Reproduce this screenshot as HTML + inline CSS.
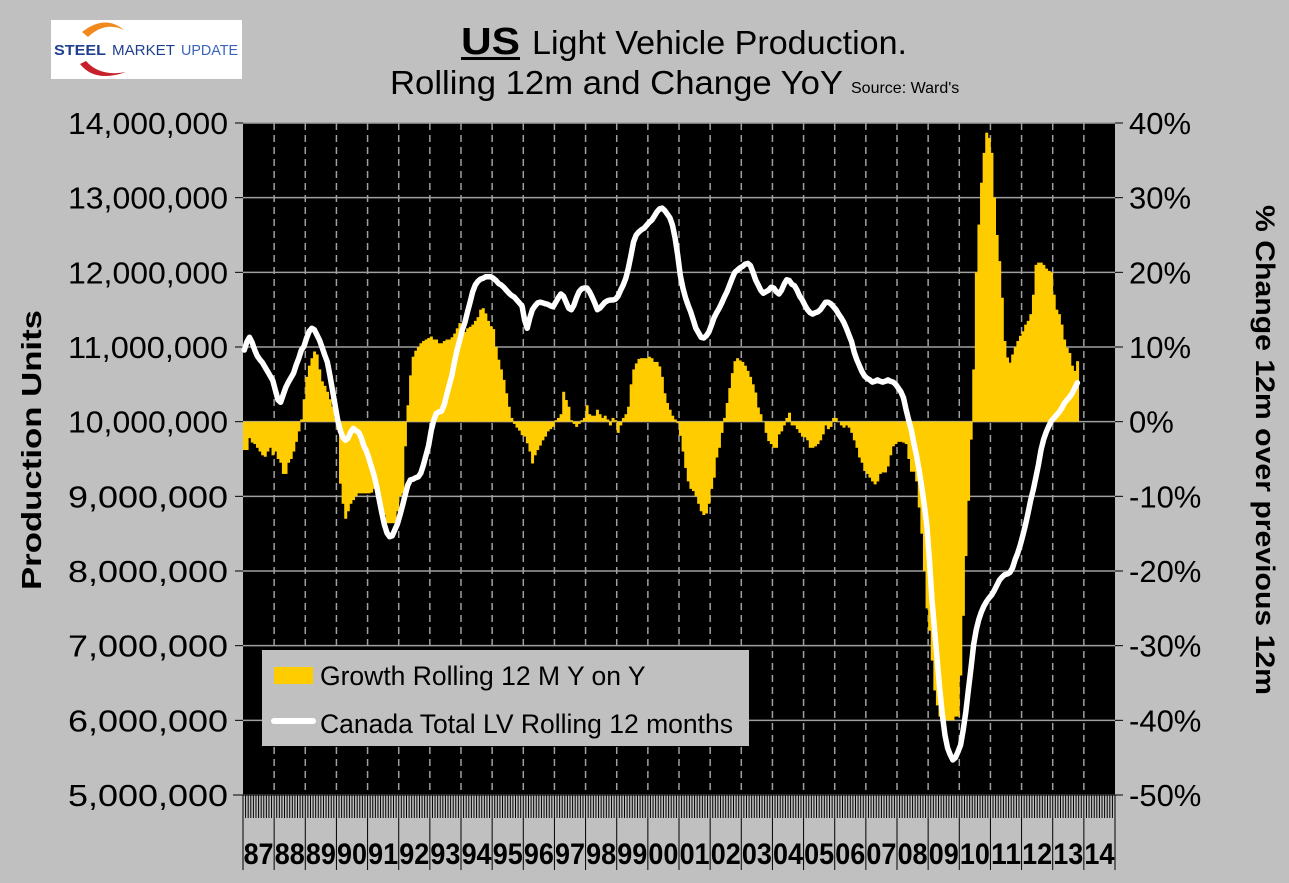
<!DOCTYPE html>
<html><head><meta charset="utf-8"><style>
html,body{margin:0;padding:0;background:#c0c0c0;}
body{width:1289px;height:878px;overflow:hidden;position:relative;font-family:"Liberation Sans",Arial,sans-serif;}
svg text{font-family:"Liberation Sans",Arial,sans-serif;}
</style></head><body>
<svg id="chart" width="1289" height="878" xmlns="http://www.w3.org/2000/svg">
<rect x="0" y="0" width="1289" height="878" fill="#c0c0c0"/>
<g>
<rect x="51" y="20" width="191" height="59" fill="#ffffff"/>
<path d="M82 32 Q105 14 124 30 Q105 21 88 37 Z" fill="#f08a1c"/>
<path d="M80 64 Q95 83 126 72 Q100 77 86 61 Z" fill="#c8202a"/>
<text x="54" y="55" font-size="15" font-weight="bold" fill="#1f3f8f" textLength="52" lengthAdjust="spacingAndGlyphs">STEEL</text>
<text x="112" y="55" font-size="15" fill="#1f3f8f" textLength="63" lengthAdjust="spacingAndGlyphs">MARKET</text>
<text x="181" y="55" font-size="15" fill="#3a64b8" textLength="57" lengthAdjust="spacingAndGlyphs">UPDATE</text>
</g>
<g>
<text x="461" y="54" font-size="38" font-weight="bold" fill="#000" textLength="59" lengthAdjust="spacingAndGlyphs">US</text>
<rect x="461" y="57" width="59" height="3" fill="#000"/>
<text x="532" y="54" font-size="33" fill="#000" textLength="375" lengthAdjust="spacingAndGlyphs">Light Vehicle Production.</text>
<text x="390" y="94" font-size="33" fill="#000" textLength="453" lengthAdjust="spacingAndGlyphs">Rolling 12m and Change YoY</text>
<text x="851" y="93" font-size="16" fill="#000">Source: Ward's</text>
</g>
<g id="plot"></g>
<text transform="translate(41,450) rotate(-90)" text-anchor="middle" font-size="28" font-weight="bold" fill="#000" textLength="280" lengthAdjust="spacingAndGlyphs">Production Units</text>
<text transform="translate(1256,450) rotate(90)" text-anchor="middle" font-size="27" font-weight="bold" fill="#000" textLength="490" lengthAdjust="spacingAndGlyphs">% Change 12m over previous 12m</text>
<g>
<rect x="262" y="650" width="487" height="96" fill="#c0c0c0"/>
<rect x="274" y="667" width="39" height="17" fill="#ffcc00"/>
<text x="320" y="685" font-size="26.5" fill="#000">Growth Rolling 12 M Y on Y</text>
<line x1="274" y1="721" x2="313" y2="721" stroke="#fff" stroke-width="6" stroke-linecap="round"/>
<text x="320" y="733" font-size="26.5" fill="#000">Canada Total LV Rolling 12 months</text>
</g>
</svg>
<script>
const years = ["87","88","89","90","91","92","93","94","95","96","97","98","99","00","01","02","03","04","05","06","07","08","09","10","11","12","13","14"];
const leftTicks = [5000000,6000000,7000000,8000000,9000000,10000000,11000000,12000000,13000000,14000000];
const rightTicks = [-50,-40,-30,-20,-10,0,10,20,30,40];
// Growth rolling 12m YoY (%), monthly from Jan 1987
const growth = [
-3.8,-3.8,-2.2,-2.8,-3,-3.5,-4,-4.5,-4.7,-4,-3.5,-4.5,
-4,-5,-5.5,-7,-7,-5.5,-5,-4,-2.7,-1.3,0.3,3,
6,7.5,8.5,9.4,9,7,5.4,4.8,4,3,2,0.5,
-1,-8.3,-11,-13,-12,-11,-10.5,-10,-9.6,-9.6,-9.6,-9.6,
-9.6,-9.5,-9,-8.7,-10,-11.4,-12.5,-13.6,-13.6,-13.6,-13.6,-12,
-10,-9.6,-3.3,2.2,6.2,8.7,9.5,10,10.5,10.8,11,11.2,
11.4,11,11,10.5,10.5,10.8,11,11,11.3,11.8,12.5,13.2,
12.5,12,12.5,12.7,13,13.5,14,15,15.2,14.5,13.5,12.8,
12.4,10,8.3,7,5.6,3.8,2,0.5,-0.3,-0.8,-1.2,-1.8,
-2,-2.9,-4,-5.6,-4.5,-3.8,-3.2,-2.5,-2,-1.3,-1,-0.7,
0.2,0.5,1,4,2.9,2,0.2,-0.3,-0.7,-0.3,0.2,0.5,
2.2,1,0.8,0.8,1.6,1,0.5,0.8,0.3,-0.5,0.5,0.2,
-1.5,-0.5,0.5,1,2,5,7,7.8,8.4,8.5,8.5,8.5,
8.7,8.5,8,8,7.4,6,3.8,2.5,1.6,0.8,0.3,-0.2,
-1.9,-4,-6.2,-8,-9,-9.3,-10,-11,-12,-12.5,-12.3,-11,
-9,-7.5,-4.8,-3.5,-1.5,0.5,2.5,4.5,6.5,8.1,8.5,8.2,
8,7.5,6.8,6,5,3.9,1.9,1,0,-1.5,-2.6,-3,
-3.5,-3.5,-1.7,-1.3,-0.5,0.5,1.2,-0.5,-0.5,-1,-1.5,-2,
-2.1,-2.5,-3.5,-3.5,-3.3,-3,-2.5,-1.7,-0.5,-1,-0.7,0.5,
0.5,0,-0.5,-0.8,-0.5,-0.8,-1.5,-2.5,-3.5,-4.8,-5.5,-6.6,
-7,-7.5,-8,-8.4,-8,-7,-6.8,-6.8,-6,-4.5,-3.3,-3,
-2.7,-2.7,-2.8,-3,-5,-6.7,-6.7,-8,-11.5,-15,-20,-25,
-28,-32,-36,-38,-39.5,-40,-40,-40,-40,-40,-39.5,-39.5,
-34,-26,-18,-10.6,-2.4,7,20,26.4,32,36,38.7,38,
36,30,25,21.5,16.6,10.8,8.6,7.9,9,10,10.8,11.5,
12.1,13,13.5,14.4,17,21,21.3,21.3,21,20.5,20.2,20,
17,15,14.4,13,11,9.9,9.2,7.5,6.8,8.1
];
// Rolling 12-month production (millions), monthly from Jan 1987
const production = [
10.96,11.07,11.13,11.06,10.96,10.88,10.83,10.79,10.73,10.67,10.61,10.55,
10.42,10.29,10.26,10.36,10.46,10.53,10.59,10.65,10.76,10.85,10.96,11.01,
11.12,11.21,11.25,11.23,11.16,11.09,10.99,10.89,10.80,10.62,10.42,10.22,
10.02,9.88,9.79,9.75,9.78,9.86,9.91,9.88,9.86,9.79,9.68,9.61,
9.51,9.39,9.28,9.13,8.95,8.78,8.62,8.51,8.46,8.47,8.55,8.63,
8.75,8.88,9.02,9.15,9.22,9.23,9.25,9.26,9.31,9.42,9.55,9.68,
9.88,10.02,10.11,10.13,10.14,10.22,10.36,10.49,10.62,10.80,10.96,11.09,
11.23,11.33,11.47,11.60,11.74,11.83,11.88,11.91,11.92,11.94,11.94,11.94,
11.92,11.89,11.85,11.83,11.80,11.76,11.72,11.69,11.67,11.63,11.59,11.55,
11.36,11.25,11.39,11.50,11.55,11.59,11.60,11.59,11.58,11.57,11.55,11.54,
11.60,11.66,11.71,11.68,11.60,11.52,11.50,11.56,11.66,11.74,11.78,11.79,
11.79,11.74,11.67,11.59,11.50,11.52,11.56,11.60,11.62,11.63,11.63,11.64,
11.68,11.76,11.83,11.92,12.06,12.23,12.41,12.50,12.54,12.57,12.59,12.63,
12.67,12.70,12.75,12.81,12.85,12.86,12.83,12.78,12.73,12.63,12.46,12.23,
11.96,11.79,11.66,11.56,11.47,11.36,11.25,11.19,11.13,11.12,11.15,11.20,
11.29,11.39,11.46,11.52,11.59,11.67,11.74,11.83,11.92,12.00,12.03,12.06,
12.08,12.11,12.12,12.09,12.00,11.90,11.83,11.76,11.72,11.74,11.76,11.80,
11.79,11.74,11.71,11.76,11.84,11.90,11.89,11.84,11.82,11.76,11.68,11.63,
11.56,11.50,11.46,11.44,11.46,11.47,11.50,11.55,11.60,11.60,11.58,11.54,
11.50,11.44,11.39,11.33,11.25,11.16,11.07,10.93,10.83,10.75,10.67,10.61,
10.58,10.56,10.53,10.54,10.56,10.54,10.53,10.54,10.56,10.54,10.53,10.50,
10.45,10.40,10.32,10.16,10.02,9.89,9.71,9.55,9.35,9.13,8.88,8.62,
8.15,7.61,7.21,6.81,6.41,6.07,5.80,5.63,5.54,5.47,5.50,5.58,
5.67,5.87,6.11,6.41,6.70,7.01,7.21,7.35,7.45,7.53,7.59,7.64,
7.68,7.74,7.81,7.88,7.92,7.95,7.96,7.98,8.04,8.15,8.24,8.35,
8.48,8.62,8.78,8.95,9.09,9.25,9.42,9.62,9.76,9.86,9.94,10.01,
10.05,10.09,10.13,10.18,10.25,10.29,10.33,10.38,10.45,10.52
];

const NS = "http://www.w3.org/2000/svg";
const L = 243, R = 1115, T = 123, B = 795;
const nMonths = years.length * 12;
const mw = (R - L) / nMonths;
function xMonth(i){ return L + i * mw; }
function yLeft(v){ return B - (v - 5000000) / 9000000 * (B - T); }
function yPct(p){ return B - (p + 50) / 90 * (B - T); }
function yProd(m){ return yLeft(m * 1000000); }
function mk(tag, attrs, parent){
  const e = document.createElementNS(NS, tag);
  for (const k in attrs) e.setAttribute(k, attrs[k]);
  parent.appendChild(e);
  return e;
}
const plot = document.getElementById('plot');
const bg = mk('rect', {x:L, y:T, width:R-L, height:B-T, fill:'#000'}, plot);


leftTicks.forEach((v) => {
  const y = yLeft(v);
  const gl = mk('line', {x1:L, x2:R, y1:y, y2:y, stroke:'#a0a0a0', 'stroke-width':1.5}, plot);
  
  
  mk('line', {x1:L-8, x2:L, y1:y, y2:y, stroke:'#000', 'stroke-width':1}, plot);
  mk('line', {x1:R, x2:R+8, y1:y, y2:y, stroke:'#000', 'stroke-width':1}, plot);
  const t = mk('text', {x:228, y:y+11, 'text-anchor':'end', 'font-size':31, fill:'#000', textLength:160, lengthAdjust:'spacingAndGlyphs'}, plot);
  t.textContent = v.toLocaleString('en-US');
  
  
});
rightTicks.forEach((p) => {
  const y = yPct(p);
  const t = mk('text', {x:1129, y:y+11, 'font-size':31, fill:'#000'}, plot);
  t.textContent = p + '%';
  
  
});
for (let i = 1; i < years.length; i++) {
  const x = xMonth(i * 12);
  const vl = mk('line', {x1:x, x2:x, y1:T, y2:B, stroke:'#a0a0a0', 'stroke-width':1.5, 'stroke-dasharray':'7,5'}, plot);
  
  
}
const y0 = yPct(0);
growth.forEach((g, i) => {
  const y = yPct(g);
  const b = mk('rect', {x:xMonth(i), y:Math.min(y, y0), width:mw+0.4, height:Math.abs(y - y0), fill:'#ffcc00'}, plot);
  
  
});
const pts = production.map((v, i) => (xMonth(i) + mw/2).toFixed(1) + ',' + yProd(v).toFixed(1)).join(' ');
const pl = mk('polyline', {points:pts, fill:'none', stroke:'#fff', 'stroke-width':5.5, 'stroke-linejoin':'round', 'stroke-linecap':'round'}, plot);


mk('line', {x1:L-10, x2:R, y1:B, y2:B, stroke:'#000', 'stroke-width':1}, plot);
for (let i = 0; i <= nMonths; i++) {
  const x = xMonth(i);
  const major = i % 12 === 0;
  mk('line', {x1:x, x2:x, y1:B, y2:major ? 870 : 818, stroke:'#000', 'stroke-width':1}, plot);
}
years.forEach((yr, i) => {
  const t = mk('text', {x:xMonth(i*12) + 6*mw, y:864, 'text-anchor':'middle', 'font-size':30, 'font-weight':'bold', fill:'#000', textLength:30, lengthAdjust:'spacingAndGlyphs'}, plot);
  t.textContent = yr;
  
  
});
</script>
</body></html>
